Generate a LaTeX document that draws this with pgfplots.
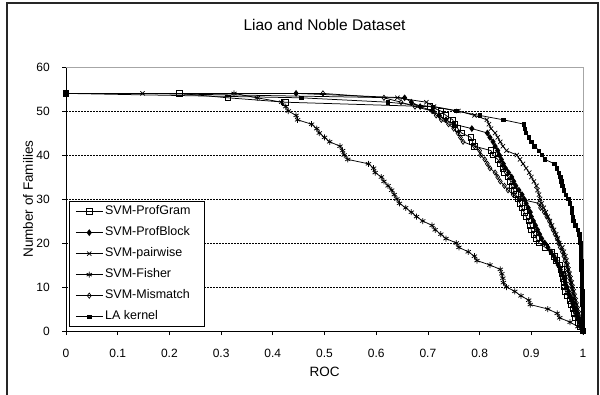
\documentclass[border=0pt]{standalone}
\usepackage{fontspec}
\setmainfont{Liberation Sans}
\usepackage{pgfplots}
\pgfplotsset{compat=1.18}
\usepackage{pgfplotstable}
\usetikzlibrary{plotmarks}

\pgfplotstableread{
x y
0 54
0.219 54
0.313 53
0.424 52
0.704 51
0.725 50
0.735 49
0.748 48
0.752 47
0.758 46
0.765 45
0.783 44
0.786 43
0.79 42
0.822 41
0.826 40
0.835 39
0.84 38
0.845 37
0.848 36
0.855 35
0.86 34
0.862 33
0.866 32
0.87 31
0.874 30
0.878 29
0.882 28
0.886 27
0.89 26
0.895 25
0.898 24
0.9 23
0.905 22
0.91 21
0.915 20
0.927 19
0.94 18
0.945 17
0.948 16
0.955 15
0.958 14
0.96 13
0.962 12
0.963 11
0.964 10
0.966 9
0.97 8
0.975 7
0.978 6
0.98 5
0.982 4
0.985 3
0.99 2
0.995 1
1 0
}\profgram

\pgfplotstableread{
x y
0 54
0.445 54
0.655 53
0.668 52
0.685 51
0.71 50
0.722 49
0.735 48
0.75 47
0.785 46
0.815 45
0.82 44
0.826 43
0.83 42
0.835 41
0.838 40
0.842 39
0.846 38
0.85 37
0.856 36
0.862 35
0.866 34
0.87 33
0.876 32
0.882 31
0.886 30
0.89 29
0.894 28
0.898 27
0.9 26
0.904 25
0.908 24
0.912 23
0.916 22
0.92 21
0.926 20
0.932 19
0.938 18
0.944 17
0.948 16
0.952 15
0.956 14
0.96 13
0.963 12
0.966 11
0.969 10
0.972 9
0.975 8
0.978 7
0.981 6
0.984 5
0.987 4
0.99 3
0.993 2
0.996 1
1 0
}\profblock

\pgfplotstableread{
x y
0 54
0.148 54
0.641 53
0.697 52
0.712 51
0.759 50
0.79 49
0.814 48
0.818 47
0.822 46
0.83 45
0.835 44
0.84 43
0.845 42
0.852 41
0.872 40
0.878 39
0.884 38
0.89 37
0.896 36
0.9 35
0.905 34
0.91 33
0.912 32
0.915 31
0.917 30
0.92 29
0.924 28
0.928 27
0.932 26
0.936 25
0.94 24
0.944 23
0.948 22
0.951 21
0.954 20
0.96 19
0.963 18
0.966 17
0.968 16
0.97 15
0.972 14
0.974 13
0.976 12
0.978 11
0.98 10
0.982 9
0.984 8
0.986 7
0.988 6
0.99 5
0.992 4
0.994 3
0.996 2
0.998 1
1 0
}\pairwise

\pgfplotstableread{
x y
0 54
0.325 54
0.37 53
0.417 52
0.425 51
0.43 50
0.445 49
0.448 48
0.475 47
0.485 46
0.49 45
0.5 44
0.51 43
0.53 42
0.535 41
0.538 40
0.545 39
0.585 38
0.595 37
0.598 36
0.61 35
0.615 34
0.623 33
0.63 32
0.635 31
0.64 30
0.645 29
0.657 28
0.668 27
0.678 26
0.69 25
0.708 24
0.714 23
0.725 22
0.735 21
0.755 20
0.76 19
0.778 18
0.79 17
0.795 16
0.82 15
0.84 14
0.843 13
0.845 12
0.846 11
0.852 10
0.868 9
0.88 8
0.895 7
0.898 6
0.932 5
0.95 4
0.955 3
0.975 2
0.99 1
1 0
}\fisher

\pgfplotstableread{
x y
0 54
0.497 54
0.615 53
0.648 52
0.675 51
0.708 50
0.716 49
0.726 48
0.74 47
0.75 46
0.758 45
0.763 44
0.768 43
0.79 42
0.8 41
0.802 40
0.81 39
0.815 38
0.82 37
0.83 36
0.835 35
0.84 34
0.848 33
0.855 32
0.865 31
0.878 30
0.915 29
0.918 28
0.925 27
0.93 26
0.935 25
0.938 24
0.942 23
0.946 22
0.95 21
0.953 20
0.956 19
0.96 18
0.963 17
0.965 16
0.968 15
0.97 14
0.972 13
0.974 12
0.976 11
0.978 10
0.98 9
0.982 8
0.984 7
0.986 6
0.988 5
0.99 4
0.992 3
0.994 2
0.996 1
1 0
}\mismatch

\pgfplotstableread{
x y
0 54
0.455 53
0.623 52
0.71 51
0.755 50
0.8 49
0.846 48
0.886 47
0.888 46
0.89 45
0.895 44
0.9 43
0.906 42
0.915 41
0.92 40
0.926 39
0.945 38
0.95 37
0.953 36
0.956 35
0.958 34
0.96 33
0.963 32
0.967 31
0.972 30
0.975 29
0.978 28
0.979 27
0.98 26
0.981 25
0.985 24
0.99 23
0.993 22
0.994 21
0.995 20
0.996 19
0.996 18
0.996 17
0.997 16
0.997 15
0.997 14
0.998 13
0.998 12
0.998 11
0.998 10
0.999 9
0.999 8
0.999 7
0.999 6
1 5
1 4
1 3
1 2
1 1
1 0
}\lakernel

\begin{document}
\begin{tikzpicture}
\useasboundingbox (0pt,0pt) rectangle (600pt,394pt);
\draw[line width=1.2pt, black!85] (7pt,-5pt) -- (7pt,391pt) -- (598pt,391pt) -- (598pt,-5pt);
\begin{axis}[
  at={(66pt,63pt)}, anchor=south west,
  scale only axis, width=517pt, height=264pt,
  xmin=0, xmax=1, ymin=0, ymax=60,
  clip=false,
  axis x line*=bottom, axis y line*=left,
  axis line style={black, line width=0.8pt, -},
  xtick={0,0.1,0.2,0.3,0.4,0.5,0.6,0.7,0.8,0.9,1},
  xticklabels={0,0.1,0.2,0.3,0.4,0.5,0.6,0.7,0.8,0.9,1},
  ytick={0,10,20,30,40,50,60},
  yticklabels={0,10,20,30,40,50,60},
  tick align=outside, major tick length=4pt,
  tick style={black, line width=0.8pt},
  /pgf/number format/assume math mode=true,
  ticklabel style={font=\fontsize{12}{14}\selectfont},
  xticklabel style={anchor=center, inner sep=0pt, yshift=-18pt},
  yticklabel style={anchor=east, inner sep=0pt, xshift=-12pt},
  ymajorgrids,
  major grid style={black, line width=0.5pt, dash pattern=on 2pt off 1pt},
  legend style={at={(0.0058,0.015)}, anchor=south west, draw=black, line width=0.8pt,
    fill=white, font=\fontsize{12.5}{15}\selectfont, inner xsep=6pt, inner ysep=2pt,
    row sep=5pt, nodes={text height=9pt, text depth=3pt}},
  legend cell align=left,
  legend image code/.code={\draw[mark repeat=2,mark phase=2,#1] plot coordinates {(0pt,0pt) (13.5pt,0pt) (27pt,0pt)};},
  every axis plot/.append style={black, line width=0.75pt},
]
\draw[gray!70, line width=1pt] (rel axis cs:0,1) -- (rel axis cs:1,1) -- (rel axis cs:1,0);
\addplot[mark=square, mark size=2.8pt, mark options={fill=white, line width=0.7pt}] table {\profgram};
\addlegendentry{SVM-ProfGram\hspace*{6pt}}
\addplot[mark=diamond*, mark size=2.8pt, mark options={fill=black}] table {\profblock};
\addlegendentry{SVM-ProfBlock\hspace*{6pt}}
\addplot[mark=x, mark size=3pt, mark options={line width=0.75pt}] table {\pairwise};
\addlegendentry{SVM-pairwise\hspace*{6pt}}
\addplot[mark=asterisk, mark size=3pt, mark options={line width=0.75pt}] table {\fisher};
\addlegendentry{SVM-Fisher\hspace*{6pt}}
\addplot[mark=diamond, mark size=2.6pt, mark options={fill=white, line width=0.7pt}] table {\mismatch};
\addlegendentry{SVM-Mismatch\hspace*{6pt}}
\addplot[mark=square*, mark size=1.7pt, mark options={fill=black}] table {\lakernel};
\addlegendentry{LA kernel\hspace*{6pt}}
\node[font=\fontsize{15.5}{18}\selectfont] at ([yshift=42pt]rel axis cs:0.5,1) {Liao and Noble Dataset};
\node[font=\fontsize{13.5}{16}\selectfont] at ([yshift=-41pt]rel axis cs:0.5,0) {ROC};
\node[font=\fontsize{13.5}{16}\selectfont, rotate=90] at ([xshift=-38pt]rel axis cs:0,0.5) {Number of Families};
\end{axis}
\end{tikzpicture}
\end{document}
